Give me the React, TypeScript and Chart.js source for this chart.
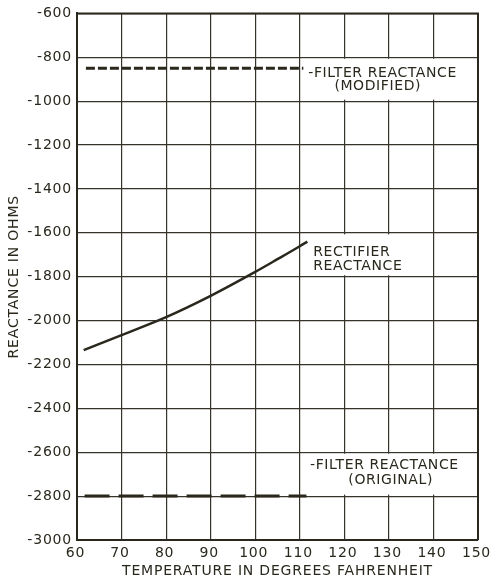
import { useEffect, useRef } from "react";
import { Chart, registerables } from "chart.js";

Chart.register(...registerables);

const xTicks = [60, 70, 80, 90, 100, 110, 120, 130, 140, 150];
const yTicks = [-3000, -2800, -2600, -2400, -2200, -2000, -1800, -1600, -1400, -1200, -1000, -800, -600];

const rectifierTemps = [61.5, 70, 80, 90, 100, 105, 110, 111.7];
const rectifierReactance = [-2135, -2066, -1984, -1887, -1778, -1720, -1661, -1640];

const modifiedTemps = [62, 110.8];
const modifiedReactance = [-850, -850];

const originalTemps = [61.7, 111.5];
const originalReactance = [-2800, -2800];

const INK = "#2a281d";
const FONT = "'DejaVu Sans', sans-serif";

const toPoints = (xs: number[], ys: number[]) => xs.map((x, i) => ({ x, y: ys[i] }));

const paperPlugin = {
  id: "paper",
  beforeDraw(chart: any) {
    const ctx = chart.ctx;
    ctx.save();
    ctx.fillStyle = "#ffffff";
    ctx.fillRect(0, 0, chart.width, chart.height);
    ctx.restore();
    ctx.letterSpacing = "0.8px";
  },
  beforeDatasetsDraw(chart: any) {
    const { ctx, scales } = chart;
    const x = scales.x;
    const y = scales.y;
    const blank = (x0: number, x1: number, y0: number, y1: number) => {
      const px0 = x.getPixelForValue(x0) + 1.5;
      const px1 = x.getPixelForValue(x1) - 1.5;
      const py0 = y.getPixelForValue(y0) + 1.5;
      const py1 = y.getPixelForValue(y1) - 1.5;
      ctx.fillRect(px0, py0, px1 - px0, py1 - py0);
    };
    ctx.save();
    ctx.fillStyle = "#ffffff";
    blank(110, 150, -800, -1000);
    blank(110, 150, -2600, -2800);
    blank(110, 140, -1600, -1800);
    ctx.restore();
  },
  afterDatasetsDraw(chart: any) {
    const { ctx, scales, chartArea } = chart;
    const x = scales.x;
    const y = scales.y;
    ctx.save();
    ctx.strokeStyle = INK;
    ctx.lineWidth = 2;
    ctx.beginPath();
    ctx.moveTo(chartArea.left, chartArea.top);
    ctx.lineTo(chartArea.right, chartArea.top);
    ctx.lineTo(chartArea.right, chartArea.bottom);
    ctx.stroke();
    ctx.fillStyle = INK;
    ctx.font = `14px ${FONT}`;
    ctx.letterSpacing = "0.6px";
    ctx.textBaseline = "middle";
    const put = (text: string, xv: number, yv: number, align: CanvasTextAlign) => {
      ctx.textAlign = align;
      ctx.fillText(text, x.getPixelForValue(xv), y.getPixelForValue(yv));
    };
    put("-FILTER REACTANCE", 111.9, -873, "left");
    put("(MODIFIED)", 127.5, -934, "center");
    put("RECTIFIER", 113.0, -1688, "left");
    put("REACTANCE", 113.0, -1752, "left");
    put("-FILTER REACTANCE", 112.3, -2660, "left");
    put("(ORIGINAL)", 130.4, -2728, "center");
    ctx.restore();
  },
};

export default function App() {
  const canvasRef = useRef<HTMLCanvasElement | null>(null);

  useEffect(() => {
    const canvas = canvasRef.current;
    if (!canvas) return;
    const chart = new Chart(canvas, {
      type: "line",
      data: {
        datasets: [
          {
            label: "Filter reactance (modified)",
            data: toPoints(modifiedTemps, modifiedReactance),
            borderColor: INK,
            borderWidth: 3,
            borderDash: [9, 3],
            pointRadius: 0,
            fill: false,
          },
          {
            label: "Rectifier reactance",
            data: toPoints(rectifierTemps, rectifierReactance),
            borderColor: INK,
            borderWidth: 2.5,
            cubicInterpolationMode: "monotone",
            pointRadius: 0,
            fill: false,
          },
          {
            label: "Filter reactance (original)",
            data: toPoints(originalTemps, originalReactance),
            borderColor: INK,
            borderWidth: 3,
            borderDash: [25, 9],
            pointRadius: 0,
            fill: false,
          },
        ],
      },
      options: {
        responsive: false,
        animation: false,
        layout: { padding: { top: 12, right: 12, left: 0, bottom: 0 } },
        plugins: {
          legend: { display: false },
          tooltip: { enabled: false },
        },
        scales: {
          x: {
            type: "linear",
            min: 60,
            max: 150,
            afterBuildTicks: (s: any) => {
              s.ticks = xTicks.map((v) => ({ value: v }));
            },
            afterFit: (s: any) => {
              s.height = 36;
              s.paddingLeft = 0;
              s.paddingRight = 0;
            },
            grid: { color: "#35332a", lineWidth: 1.2, drawTicks: false },
            border: { color: INK, width: 2 },
            ticks: {
              color: INK,
              font: { family: FONT, size: 14 },
              padding: 5,
              labelOffset: -1.5,
              maxRotation: 0,
              autoSkip: false,
              callback: (v: any) => String(v),
            },
            title: {
              display: true,
              text: "TEMPERATURE IN DEGREES FAHRENHEIT",
              color: INK,
              font: { family: FONT, size: 14, lineHeight: 0.7 },
              padding: { top: 0, bottom: 0 },
            },
          },
          y: {
            type: "linear",
            min: -3000,
            max: -600,
            afterBuildTicks: (s: any) => {
              s.ticks = yTicks.map((v) => ({ value: v }));
            },
            afterFit: (s: any) => {
              s.width = 77;
            },
            grid: { color: "#35332a", lineWidth: 1.2, drawTicks: false },
            border: { color: INK, width: 2 },
            ticks: {
              color: INK,
              font: { family: FONT, size: 14 },
              padding: 5,
              autoSkip: false,
              callback: (v: any) => String(v),
            },
            title: {
              display: true,
              text: "REACTANCE IN OHMS",
              color: INK,
              font: { family: FONT, size: 14, lineHeight: 1 },
              padding: { top: 7, bottom: 0 },
            },
          },
        },
      },
      plugins: [paperPlugin],
    } as any);
    return () => chart.destroy();
  }, []);

  return (
    <div style={{ position: "fixed", left: 0, top: 0, width: 490, height: 576, background: "#ffffff" }}>
      <canvas ref={canvasRef} width={490} height={576} style={{ display: "block" }} />
    </div>
  );
}
